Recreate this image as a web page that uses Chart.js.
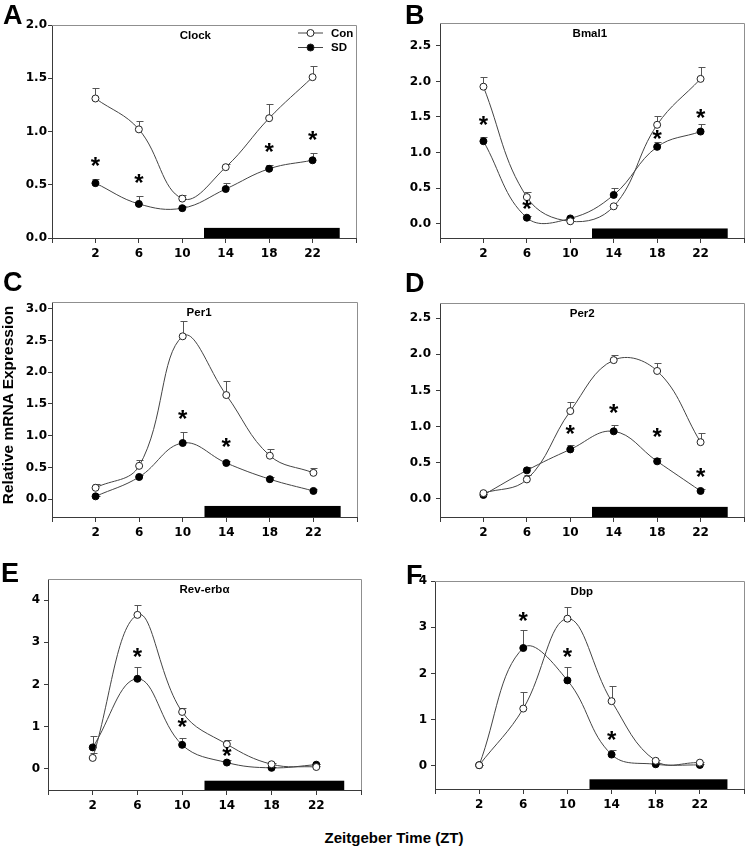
<!DOCTYPE html>
<html>
<head>
<meta charset="utf-8">
<script src="https://cdn.jsdelivr.net/npm/chart.js@4.4.0/dist/chart.umd.min.js"></script>
<style>
html,body{margin:0;padding:0;background:#fff;}
body{width:747px;height:851px;position:relative;overflow:hidden;}
canvas{position:absolute;}
.lab{position:absolute;font-family:'Liberation Sans',Arial,sans-serif;font-weight:bold;font-size:27px;line-height:27px;color:#000;z-index:5;white-space:nowrap;}
#ytitle{position:absolute;left:-122px;top:397px;width:260px;height:16px;line-height:16px;font-size:15.5px;text-align:center;transform:rotate(-90deg);font-family:'Liberation Sans',Arial,sans-serif;font-weight:bold;z-index:5;white-space:nowrap;}
#xtitle{position:absolute;left:244px;top:830px;width:300px;line-height:15px;font-size:15px;text-align:center;font-family:'Liberation Sans',Arial,sans-serif;font-weight:bold;z-index:5;white-space:nowrap;}
</style>
</head>
<body>
<div class="lab" style="left:3px;top:2px;">A</div>
<div class="lab" style="left:405px;top:2px;">B</div>
<div class="lab" style="left:3px;top:269px;">C</div>
<div class="lab" style="left:405px;top:270px;">D</div>
<div class="lab" style="left:1px;top:560px;">E</div>
<div class="lab" style="left:406px;top:562px;">F</div>
<div id="ytitle">Relative mRNA Expression</div>
<div id="xtitle">Zeitgeber Time (ZT)</div>
<script>
// ---------- data ----------
const zt = [2, 6, 10, 14, 18, 22];
const xTicks = [-2, 2, 6, 10, 14, 18, 22, 26];
const darkPhase = [12, 24.5];
const seriesNames = ['Con', 'SD'];

// A: Clock
const clockCon    = [1.31, 1.02, 0.37, 0.665, 1.125, 1.51];
const clockConSem = [0.10, 0.08, 0.035, 0.03, 0.135, 0.105];
const clockSD     = [0.515, 0.32, 0.28, 0.46, 0.65, 0.73];
const clockSDSem  = [0.04, 0.07, 0.02, 0.055, 0.04, 0.065];
const clockStars  = [0.72, 0.555, null, null, 0.85, 0.965];
const clockTicks  = [0, 0.5, 1.0, 1.5, 2.0];

// B: Bmal1
const bmalCon    = [1.925, 0.375, 0.035, 0.245, 1.39, 2.035];
const bmalConSem = [0.13, 0.07, 0.01, 0.02, 0.12, 0.17];
const bmalSD     = [1.16, 0.085, 0.075, 0.405, 1.08, 1.295];
const bmalSDSem  = [0.065, 0.02, 0.01, 0.095, 0.075, 0.10];
const bmalStars  = [1.45, 0.27, null, null, 1.25, 1.555];
const bmalTicks  = [0, 0.5, 1.0, 1.5, 2.0, 2.5];

// C: Per1
const per1Con    = [0.18, 0.525, 2.565, 1.64, 0.685, 0.415];
const per1ConSem = [0.06, 0.10, 0.245, 0.225, 0.11, 0.08];
const per1SD     = [0.045, 0.35, 0.885, 0.57, 0.315, 0.13];
const per1SDSem  = [0.01, 0.03, 0.17, 0.03, 0.04, 0.035];
const per1Stars  = [null, null, 1.335, 0.895, null, null];
const per1Ticks  = [0, 0.5, 1.0, 1.5, 2.0, 2.5, 3.0];

// D: Per2
const per2Con    = [0.08, 0.27, 1.215, 1.92, 1.77, 0.785];
const per2ConSem = [0.01, 0.06, 0.13, 0.075, 0.115, 0.12];
const per2SD     = [0.055, 0.395, 0.685, 0.935, 0.52, 0.11];
const per2SDSem  = [0.01, 0.05, 0.055, 0.09, 0.04, 0.03];
const per2Stars  = [null, null, 0.965, 1.245, 0.915, 0.37];
const per2Ticks  = [0, 0.5, 1.0, 1.5, 2.0, 2.5];

// E: Rev-erbα
const revCon    = [0.26, 3.65, 1.35, 0.585, 0.11, 0.045];
const revConSem = [0.12, 0.23, 0.09, 0.10, 0.02, 0.02];
const revSD     = [0.51, 2.135, 0.57, 0.15, 0.025, 0.10];
const revSDSem  = [0.27, 0.27, 0.17, 0.07, 0.02, 0.02];
const revStars  = [null, 2.75, 1.11, 0.415, null, null];
const revTicks  = [0, 1, 2, 3, 4];

// F: Dbp
const dbpCon    = [0.015, 1.24, 3.185, 1.40, 0.11, 0.07];
const dbpConSem = [0.01, 0.35, 0.255, 0.33, 0.02, 0.02];
const dbpSD     = [0.015, 2.55, 1.85, 0.245, 0.035, 0.02];
const dbpSDSem  = [0.01, 0.39, 0.30, 0.09, 0.02, 0.02];
const dbpStars  = [null, 3.24, 2.45, 0.655, null, null];
const dbpTicks  = [0, 1, 2, 3, 4];

// ---------- layout / style ----------
const YW = 45, PT = 15, PR = 12, XH = 30;
const panels = [
  {title:'Clock', con:clockCon, conSem:clockConSem, sd:clockSD, sdSem:clockSDSem, stars:clockStars, ticks:clockTicks, yMin:0, yMax:2.0, dec:1, barY:[0, 0.095], box:{l:52,t:25,r:356,b:238}, titleX:11.2, ylPad:1, legend:true},
  {title:'Bmal1', con:bmalCon, conSem:bmalConSem, sd:bmalSD, sdSem:bmalSDSem, stars:bmalStars, ticks:bmalTicks, yMin:-0.2, yMax:2.82, dec:1, barY:[-0.2, -0.066], box:{l:440,t:23,r:744,b:238}, titleX:11.8, ylPad:5},
  {title:'Per1', con:per1Con, conSem:per1ConSem, sd:per1SD, sdSem:per1SDSem, stars:per1Stars, ticks:per1Ticks, yMin:-0.28, yMax:3.105, dec:1, barY:[-0.28, -0.106], box:{l:52,t:302,r:357,b:517}, titleX:11.5, ylPad:1},
  {title:'Per2', con:per2Con, conSem:per2ConSem, sd:per2SD, sdSem:per2SDSem, stars:per2Stars, ticks:per2Ticks, yMin:-0.25, yMax:2.71, dec:1, barY:[-0.25, -0.11], box:{l:440,t:303,r:744,b:517}, titleX:11.1, ylPad:5},
  {title:'Rev-erb\u03b1', con:revCon, conSem:revConSem, sd:revSD, sdSem:revSDSem, stars:revStars, ticks:revTicks, yMin:-0.5, yMax:4.5, dec:0, barY:[-0.5, -0.28], box:{l:48,t:579,r:361,b:790}, titleX:12.0, ylPad:4},
  {title:'Dbp', con:dbpCon, conSem:dbpConSem, sd:dbpSD, sdSem:dbpSDSem, stars:dbpStars, ticks:dbpTicks, yMin:-0.5, yMax:4, dec:0, barY:[-0.5, -0.29], box:{l:435,t:581,r:744,b:789}, titleX:11.3, ylPad:4}
];

const TICKFONT = {family:"'DejaVu Sans', sans-serif", size:12, weight:'bold'};
const LABFONT = "'Liberation Sans', Arial, sans-serif";
const AXIS = '#3a3a3a';

const panelPlugin = {
  id: 'panelDeco',
  beforeDatasetsDraw(chart, args, opts) {
    const p = opts.panel;
    const {ctx, chartArea: a, scales: {x, y}} = chart;
    ctx.save();
    // top and right frame
    ctx.strokeStyle = '#8f8f8f'; ctx.lineWidth = 1;
    ctx.beginPath();
    ctx.moveTo(a.left, Math.round(a.top) + 0.5);
    ctx.lineTo(Math.round(a.right) + 0.5, Math.round(a.top) + 0.5);
    ctx.lineTo(Math.round(a.right) + 0.5, a.bottom);
    ctx.stroke();
    // dark phase bar
    const x0 = x.getPixelForValue(darkPhase[0]), x1 = x.getPixelForValue(darkPhase[1]);
    const yb = y.getPixelForValue(p.barY[0]), yt = y.getPixelForValue(p.barY[1]);
    ctx.fillStyle = '#000';
    ctx.fillRect(x0, yt, x1 - x0, yb - yt);
    // error bars (upper only)
    ctx.strokeStyle = '#555'; ctx.lineWidth = 1;
    [[p.con, p.conSem], [p.sd, p.sdSem]].forEach(([vals, sems]) => {
      vals.forEach((v, i) => {
        const px = Math.round(x.getPixelForValue(zt[i])) + 0.5;
        const py = y.getPixelForValue(v);
        const pe = Math.round(y.getPixelForValue(v + sems[i])) + 0.5;
        ctx.beginPath();
        ctx.moveTo(px, py); ctx.lineTo(px, pe);
        ctx.moveTo(px - 3, pe); ctx.lineTo(px + 4, pe);
        ctx.stroke();
      });
    });
    ctx.restore();
  },
  afterDatasetsDraw(chart, args, opts) {
    const p = opts.panel;
    const {ctx, chartArea: a, scales: {x, y}} = chart;
    ctx.save();
    // panel title
    ctx.fillStyle = '#000';
    ctx.font = 'bold 11.5px ' + LABFONT;
    ctx.textAlign = 'center'; ctx.textBaseline = 'middle';
    ctx.fillText(p.title, x.getPixelForValue(p.titleX), a.top + 11);
    // asterisks
    ctx.font = 'bold 24px ' + LABFONT;
    ctx.textBaseline = 'alphabetic';
    const m = ctx.measureText('*');
    const off = (m.actualBoundingBoxAscent - m.actualBoundingBoxDescent) / 2;
    p.stars.forEach((s, i) => {
      if (s === null) return;
      ctx.fillText('*', x.getPixelForValue(zt[i]), y.getPixelForValue(s) + off);
    });
    // legend
    if (p.legend) {
      const rows = [a.top + 8, a.top + 22.5];
      rows.forEach((ry, k) => {
        ctx.strokeStyle = '#444'; ctx.lineWidth = 1;
        ctx.beginPath(); ctx.moveTo(a.right - 58, ry); ctx.lineTo(a.right - 33, ry); ctx.stroke();
        ctx.beginPath(); ctx.arc(a.right - 45.5, ry, 3.5, 0, Math.PI * 2);
        ctx.fillStyle = k === 0 ? '#fff' : '#000'; ctx.fill();
        ctx.strokeStyle = '#222'; ctx.stroke();
        ctx.fillStyle = '#000';
        ctx.font = 'bold 11.5px ' + LABFONT;
        ctx.textAlign = 'left'; ctx.textBaseline = 'middle';
        ctx.fillText(seriesNames[k], a.right - 25, ry + 0.5);
      });
    }
    ctx.restore();
  }
};

panels.forEach((p) => {
  const c = document.createElement('canvas');
  const w = p.box.r - p.box.l + YW + PR;
  const h = p.box.b - p.box.t + PT + XH;
  c.width = w; c.height = h;
  c.style.left = (p.box.l - YW) + 'px';
  c.style.top = (p.box.t - PT) + 'px';
  c.style.width = w + 'px'; c.style.height = h + 'px';
  document.body.appendChild(c);
  const mk = (vals) => zt.map((t, i) => ({x: t, y: vals[i]}));
  new Chart(c.getContext('2d'), {
    type: 'line',
    data: {
      datasets: [
        {label: seriesNames[0], data: mk(p.con), borderColor: '#444', borderWidth: 1, tension: 0.4,
         pointRadius: 3.5, pointBackgroundColor: '#fff', pointBorderColor: '#222', pointBorderWidth: 1},
        {label: seriesNames[1], data: mk(p.sd), borderColor: '#444', borderWidth: 1, tension: 0.4,
         pointRadius: 3.5, pointBackgroundColor: '#000', pointBorderColor: '#000', pointBorderWidth: 1}
      ]
    },
    options: {
      responsive: false, animation: false, devicePixelRatio: 1,
      layout: {padding: {left: 0, top: PT, right: PR, bottom: 0}},
      plugins: {legend: {display: false}, tooltip: {enabled: false}, title: {display: false},
                panelDeco: {panel: p}},
      scales: {
        x: {
          type: 'linear', min: -2, max: 26,
          afterBuildTicks: (ax) => { ax.ticks = xTicks.map(v => ({value: v})); },
          afterFit: (ax) => { ax.height = XH; },
          grid: {display: true, drawOnChartArea: false, drawTicks: true, tickLength: 5, color: AXIS},
          border: {display: true, color: AXIS, width: 1},
          ticks: {autoSkip: false, maxRotation: 0, padding: 4, color: '#000', font: TICKFONT,
                  callback: (v) => (v < 0 || v > 24) ? '' : String(v)}
        },
        y: {
          type: 'linear', min: p.yMin, max: p.yMax,
          afterBuildTicks: (ax) => { ax.ticks = p.ticks.map(v => ({value: v})); },
          afterFit: (ax) => { ax.width = YW; },
          grid: {display: true, drawOnChartArea: false, drawTicks: true, tickLength: 4, color: AXIS},
          border: {display: true, color: AXIS, width: 1},
          ticks: {padding: p.ylPad, color: '#000', font: TICKFONT,
                  callback: (v) => Number(v).toFixed(p.dec)}
        }
      }
    },
    plugins: [panelPlugin]
  });
});
</script>
</body>
</html>
